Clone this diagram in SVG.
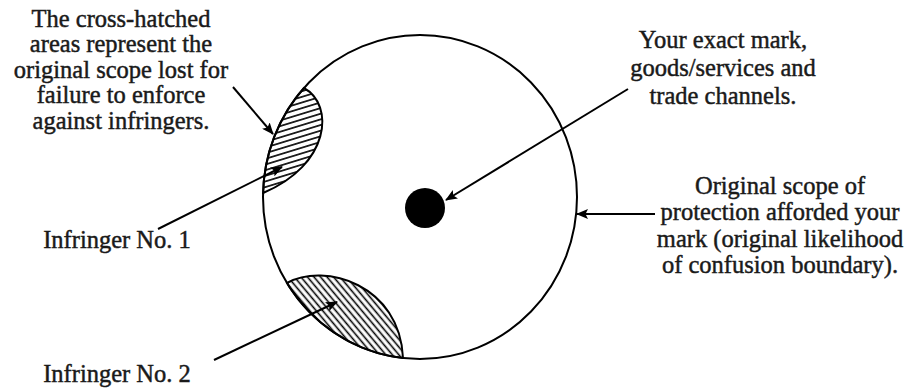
<svg xmlns="http://www.w3.org/2000/svg" width="912" height="388" viewBox="0 0 912 388">
  <style>
    .t { font-family: "Liberation Serif", "Times New Roman", serif; font-size: 24.5px; fill: #1a1a1a; stroke: #1a1a1a; stroke-width: 0.45; text-anchor: middle; }
    .ln { stroke: #000; stroke-width: 2; fill: none; }
    .conn { stroke: #000; stroke-width: 2; fill: none; marker-end: url(#arr); }
    .hatchline { stroke: #000; stroke-width: 1.6; }
  </style>
  <defs>
    <marker id="arr" markerUnits="userSpaceOnUse" markerWidth="12" markerHeight="10" refX="11" refY="5" orient="auto">
      <path d="M0,0 L12,5 L0,10 L2.5,5 Z" fill="#000"/>
    </marker>
    <pattern id="h1" patternUnits="userSpaceOnUse" width="12" height="5.4" patternTransform="rotate(-17)">
      <line class="hatchline" x1="0" y1="2.7" x2="12" y2="2.7"/>
    </pattern>
    <pattern id="h2" patternUnits="userSpaceOnUse" width="12" height="5" patternTransform="rotate(50)">
      <line class="hatchline" x1="0" y1="2.5" x2="12" y2="2.5"/>
    </pattern>
  </defs>
  <rect width="912" height="388" fill="#fff"/>

  <g id="scope-circle">
    <ellipse class="ln" cx="420" cy="197" rx="157" ry="162"/>
  </g>

  <g id="infringer1-area">
    <path d="M303.9,88 C335,105 330,165 263.1,193 A157,162 0 0 1 303.9,88 Z" fill="url(#h1)" stroke="#000" stroke-width="2"/>
  </g>

  <g id="infringer2-area">
    <path d="M287,283 C325,262 400,285 403,358 A157,162 0 0 1 287,283 Z" fill="url(#h2)" stroke="#000" stroke-width="2"/>
  </g>

  <g id="exact-mark">
    <circle cx="425" cy="208" r="20" fill="#000"/>
  </g>

  <g id="connectors">
    <line class="conn" x1="233" y1="87" x2="273" y2="134"/>
    <line class="conn" x1="158" y1="229" x2="282" y2="167"/>
    <line class="conn" x1="214" y1="360" x2="337" y2="302"/>
    <line class="conn" x1="628" y1="89" x2="446" y2="200"/>
    <line class="conn" x1="655" y1="214" x2="577" y2="214"/>
  </g>

  <g id="label-crosshatched">
    <text class="t" x="121" y="27">The cross-hatched</text>
    <text class="t" x="121" y="52">areas represent the</text>
    <text class="t" x="121" y="78">original scope lost for</text>
    <text class="t" x="121" y="103">failure to enforce</text>
    <text class="t" x="121" y="129">against infringers.</text>
  </g>

  <g id="label-exact-mark">
    <text class="t" x="723" y="48">Your exact mark,</text>
    <text class="t" x="723" y="76">goods/services and</text>
    <text class="t" x="723" y="104">trade channels.</text>
  </g>

  <g id="label-original-scope">
    <text class="t" x="780" y="194">Original scope of</text>
    <text class="t" x="780" y="220">protection afforded your</text>
    <text class="t" x="780" y="247">mark (original likelihood</text>
    <text class="t" x="780" y="273">of confusion boundary).</text>
  </g>

  <g id="label-infringer1">
    <text class="t" x="117" y="248">Infringer No. 1</text>
  </g>

  <g id="label-infringer2">
    <text class="t" x="117" y="382">Infringer No. 2</text>
  </g>
</svg>
